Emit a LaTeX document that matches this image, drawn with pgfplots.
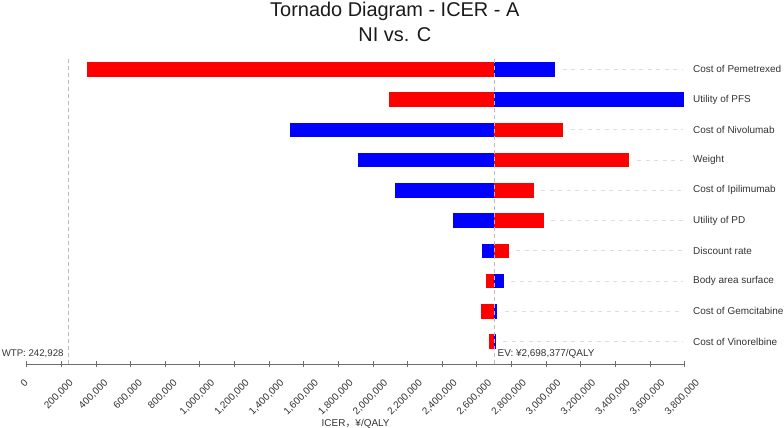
\documentclass[border=0pt]{standalone}
\usepackage{pgfplots}
\pgfplotsset{compat=1.18}
\usepackage{graphicx}
\usepackage{fontspec}
\setmainfont{Liberation Sans}
\newfontfamily\cjk{Noto Sans CJK SC}
\definecolor{txt}{HTML}{333333}
\definecolor{ttl}{HTML}{1A1A1A}
\definecolor{axgray}{HTML}{6E6E6E}
\definecolor{refgray}{HTML}{BBBBBB}
\definecolor{guide}{HTML}{DDDDDD}
\definecolor{bred}{HTML}{FF0000}
\definecolor{bblue}{HTML}{0000FF}
\begin{document}
\begin{tikzpicture}
\begin{axis}[
  scale only axis, width=658bp, height=307bp,
  xmin=0, xmax=3800000, ymin=-0.75, ymax=9.4,
  axis x line*=bottom, axis y line*=right,
  y axis line style={draw=none},
  x axis line style={axgray, line width=1bp},
  xtick={0,200000,400000,600000,800000,1000000,1200000,1400000,1600000,1800000,2000000,2200000,2400000,2600000,2800000,3000000,3200000,3400000,3600000,3800000},
  scaled x ticks=false,
  xtick align=center, major tick length=6bp,
  xtick style={axgray, line width=0.8bp},
  /pgf/number format/assume math mode=true,
  xticklabel={\rotatebox{45}{\pgfmathprintnumber[fixed, precision=0, 1000 sep={,}, assume math mode=true]{\tick}}},
  xticklabel style={anchor=north, font=\fontsize{10}{12}\selectfont, text=txt, yshift=-8bp, xshift=-2.5bp},
  ytick={0,1,2,3,4,5,6,7,8,9},
  yticklabels={Cost of Vinorelbine, Cost of Gemcitabine, Body area surface, Discount rate, Utility of PD, Cost of Ipilimumab, Weight, Cost of Nivolumab, Utility of PFS, Cost of Pemetrexed},
  ytick style={draw=none},
  yticklabel style={anchor=west, font=\fontsize{10}{12}\selectfont, text=txt, xshift=5bp},
  xlabel={ICER{\cjk ，}¥/QALY},
  xlabel style={at={(axis description cs:0.5,0)}, anchor=base, yshift=-61.7bp, font=\fontsize{10}{12}\selectfont, text=txt},
  clip=false,
]
% guide lines
\addplot[guide, dash pattern=on 4bp off 4.5bp, line width=0.8bp] coordinates {(3097000,9) (3790000,9)};
\addplot[guide, dash pattern=on 4bp off 4.5bp, line width=0.8bp] coordinates {(3142000,7) (3790000,7)};
\addplot[guide, dash pattern=on 4bp off 4.5bp, line width=0.8bp] coordinates {(3525000,6) (3790000,6)};
\addplot[guide, dash pattern=on 4bp off 4.5bp, line width=0.8bp] coordinates {(2972000,5) (3790000,5)};
\addplot[guide, dash pattern=on 4bp off 4.5bp, line width=0.8bp] coordinates {(3030000,4) (3790000,4)};
\addplot[guide, dash pattern=on 4bp off 4.5bp, line width=0.8bp] coordinates {(2828000,3) (3790000,3)};
\addplot[guide, dash pattern=on 4bp off 4.5bp, line width=0.8bp] coordinates {(2799000,2) (3790000,2)};
\addplot[guide, dash pattern=on 4bp off 4.5bp, line width=0.8bp] coordinates {(2762000,1) (3790000,1)};
\addplot[guide, dash pattern=on 4bp off 4.5bp, line width=0.8bp] coordinates {(2753000,0) (3790000,0)};
% bars (low side, high side), EV = 2698377
\addplot[bred,  line width=14.7bp] coordinates {(350000,9) (2698377,9)};
\addplot[bblue, line width=14.7bp] coordinates {(2698377,9) (3052000,9)};
\addplot[bred,  line width=14.7bp] coordinates {(2094000,8) (2698377,8)};
\addplot[bblue, line width=14.7bp] coordinates {(2698377,8) (3795000,8)};
\addplot[bblue, line width=14.7bp] coordinates {(1518000,7) (2698377,7)};
\addplot[bred,  line width=14.7bp] coordinates {(2698377,7) (3097000,7)};
\addplot[bblue, line width=14.7bp] coordinates {(1915000,6) (2698377,6)};
\addplot[bred,  line width=14.7bp] coordinates {(2698377,6) (3480000,6)};
\addplot[bblue, line width=14.7bp] coordinates {(2127000,5) (2698377,5)};
\addplot[bred,  line width=14.7bp] coordinates {(2698377,5) (2927000,5)};
\addplot[bblue, line width=14.7bp] coordinates {(2463000,4) (2698377,4)};
\addplot[bred,  line width=14.7bp] coordinates {(2698377,4) (2985000,4)};
\addplot[bblue, line width=14.7bp] coordinates {(2631000,3) (2698377,3)};
\addplot[bred,  line width=14.7bp] coordinates {(2698377,3) (2783000,3)};
\addplot[bred,  line width=14.7bp] coordinates {(2654000,2) (2698377,2)};
\addplot[bblue, line width=14.7bp] coordinates {(2698377,2) (2754000,2)};
\addplot[bred,  line width=14.7bp] coordinates {(2621000,1) (2698377,1)};
\addplot[bblue, line width=14.7bp] coordinates {(2698377,1) (2717000,1)};
\addplot[bred,  line width=14.7bp] coordinates {(2668000,0) (2698377,0)};
\addplot[bblue, line width=14.7bp] coordinates {(2698377,0) (2708000,0)};
% reference lines
\addplot[refgray, dash pattern=on 4bp off 3bp, line width=0.8bp] coordinates {(242928,-0.75) (242928,9.4)};
\addplot[refgray, dash pattern=on 4bp off 3bp, line width=0.8bp] coordinates {(2698377,-0.75) (2698377,9.4)};
\node[anchor=base east, inner sep=0pt, font=\fontsize{9.7}{12}\selectfont, text=txt, xshift=-5bp, yshift=7.6bp] at (axis cs:242928,-0.75) {WTP: 242,928};
\node[anchor=base west, inner sep=0pt, font=\fontsize{10}{12}\selectfont, text=txt, xshift=3.5bp, yshift=8.3bp] at (axis cs:2698377,-0.75) {EV: ¥2,698,377/QALY};
\node[anchor=base, font=\fontsize{20}{24}\selectfont, text=ttl, yshift=41.3bp] at (axis description cs:0.5595,1) {Tornado Diagram - ICER - A};
\node[anchor=base, font=\fontsize{20}{24}\selectfont, text=ttl, yshift=15.6bp] at (axis description cs:0.5595,1) {NI vs. C};
\end{axis}
\pgfresetboundingbox
\path (current axis.south west) ++(-26.67bp,-63.7bp) rectangle ++(784bp,428bp);
\end{tikzpicture}
\end{document}
